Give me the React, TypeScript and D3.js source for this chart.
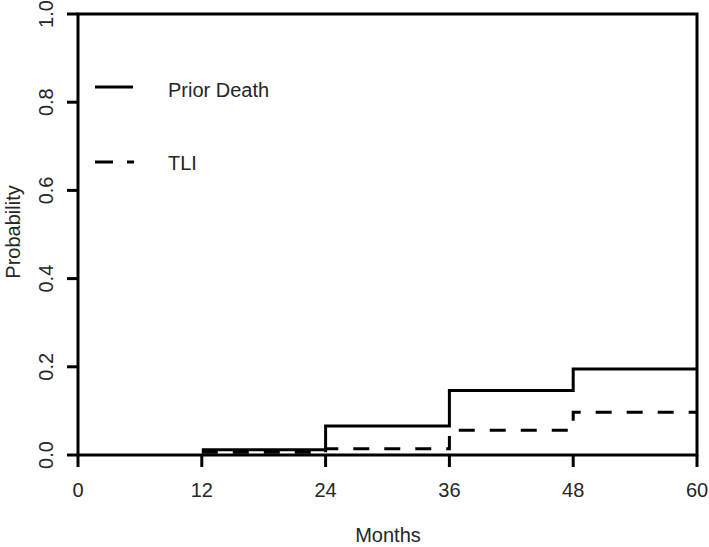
import React from "react";
import * as d3 from "d3";

const months = [0, 12, 24, 36, 48, 60];
const priorDeath = [0, 0.012, 0.066, 0.146, 0.195, 0.195];
const tli = [0, 0.006, 0.014, 0.056, 0.097, 0.097];
const xTicks = [0, 12, 24, 36, 48, 60];
const yTicks = [0, 0.2, 0.4, 0.6, 0.8, 1.0];
const seriesNames = ["Prior Death", "TLI"];

const W = 709;
const H = 547;
const L = 78, R = 697, T = 14, B = 455;

export default function App() {
  const x = d3.scaleLinear().domain([0, 60]).range([L, R]);
  const y = d3.scaleLinear().domain([0, 1]).range([B, T]);
  const line = d3
    .line<[number, number]>()
    .x((d) => x(d[0]))
    .y((d) => y(d[1]))
    .curve(d3.curveStepAfter);
  const pd: [number, number][] = months.slice(1).map((m, i) => [m, priorDeath[i + 1]]);
  const tl: [number, number][] = months.slice(1).map((m, i) => [m, tli[i + 1]]);
  const font = "'Liberation Sans', Arial, sans-serif";
  const textColor = "#262626";
  return (
    <svg width={W} height={H} style={{ position: "absolute", left: 0, top: 0 }}>
      <rect width={W} height={H} fill="#fff" />
      <defs>
        <clipPath id="plot">
          <rect x={L} y={T} width={R - L} height={B - T} />
        </clipPath>
      </defs>
      <g clipPath="url(#plot)">
        <path d={line(pd) || ""} fill="none" stroke="#000" strokeWidth={3} />
        <path d={line(tl) || ""} fill="none" stroke="#000" strokeWidth={3} strokeDasharray="16 15" />
      </g>
      <rect x={L} y={T} width={R - L} height={B - T} fill="none" stroke="#000" strokeWidth={3} />
      {xTicks.map((t) => (
        <g key={"x" + t}>
          <line x1={x(t)} x2={x(t)} y1={B} y2={B + 12} stroke="#000" strokeWidth={3} />
          <text x={x(t)} y={497} textAnchor="middle" fontFamily={font} fontSize={20} fill={textColor}>
            {t}
          </text>
        </g>
      ))}
      {yTicks.map((t) => (
        <g key={"y" + t}>
          <line x1={L - 11} x2={L} y1={y(t)} y2={y(t)} stroke="#000" strokeWidth={3} />
          <text
            transform={`translate(53,${y(t)}) rotate(-90)`}
            textAnchor="middle"
            fontFamily={font}
            fontSize={20}
            fill={textColor}
          >
            {t.toFixed(1)}
          </text>
        </g>
      ))}
      <text x={388} y={542} textAnchor="middle" fontFamily={font} fontSize={20} fill={textColor}>
        Months
      </text>
      <text
        transform={`translate(20,232) rotate(-90)`}
        textAnchor="middle"
        fontFamily={font}
        fontSize={20}
        fill={textColor}
      >
        Probability
      </text>
      <line x1={95} x2={133} y1={87} y2={87} stroke="#000" strokeWidth={3} />
      <text x={168} y={97} fontFamily={font} fontSize={20} fill={textColor}>
        {seriesNames[0]}
      </text>
      <line x1={95} x2={134} y1={162} y2={162} stroke="#000" strokeWidth={3} strokeDasharray="18 14" />
      <text x={168} y={170} fontFamily={font} fontSize={20} fill={textColor}>
        {seriesNames[1]}
      </text>
    </svg>
  );
}
